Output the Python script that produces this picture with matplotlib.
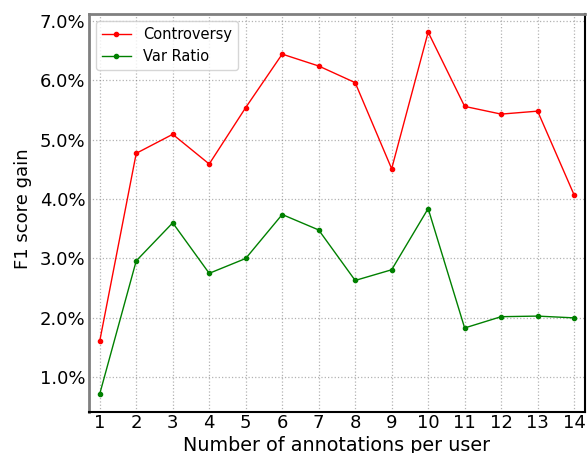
import matplotlib
matplotlib.use('Agg')
import matplotlib.pyplot as plt
from matplotlib.ticker import PercentFormatter

# jumlah anotasi per user
n_anno = [1, 2, 3, 4, 5, 6, 7, 8, 9, 10, 11, 12, 13, 14]
controversy = [1.61, 4.77, 5.09, 4.59, 5.54, 6.44, 6.24, 5.96, 4.51, 6.81, 5.56, 5.43, 5.48, 4.07]
var_ratio = [0.72, 2.96, 3.60, 2.75, 3.00, 3.74, 3.48, 2.63, 2.81, 3.84, 1.83, 2.02, 2.03, 2.00]

fig = plt.figure(figsize=(5.88, 4.53), dpi=100)
ax = fig.add_axes([0.151, 0.0905, 0.844, 0.8785])

ax.plot(n_anno, controversy, color='red', marker='o', markersize=3, linewidth=1, label='Controversy')
ax.plot(n_anno, var_ratio, color='green', marker='o', markersize=3, linewidth=1, label='Var Ratio')

ax.set_xlim(0.7, 14.3)
ax.set_xticks(n_anno)
ax.set_yticks([1, 2, 3, 4, 5, 6, 7])
ax.yaxis.set_major_formatter(PercentFormatter(decimals=1))
ax.tick_params(axis='x', labelsize=13, pad=1.5, length=0)
ax.tick_params(axis='y', labelsize=13, pad=2.5, length=0)
ax.grid(True, linestyle=':', color='gray', alpha=0.6, linewidth=0.9)

ax.spines['left'].set_color('gray')
ax.spines['top'].set_color('gray')
ax.spines['left'].set_linewidth(2)
ax.spines['top'].set_linewidth(2)
ax.spines['right'].set_linewidth(1.5)
ax.spines['bottom'].set_linewidth(1.5)

ax.set_xlabel('Number of annotations per user', fontsize=13.8)
ax.set_ylabel('F1 score gain', fontsize=13)
ax.xaxis.set_label_coords(0.5, -0.06, transform=ax.transAxes)
ax.yaxis.set_label_coords(-0.114, 0.51, transform=ax.transAxes)
ax.xaxis.label.set_va('top')
ax.legend(loc='upper left', fontsize=10.5)

fig.savefig('out.png', dpi=100)
